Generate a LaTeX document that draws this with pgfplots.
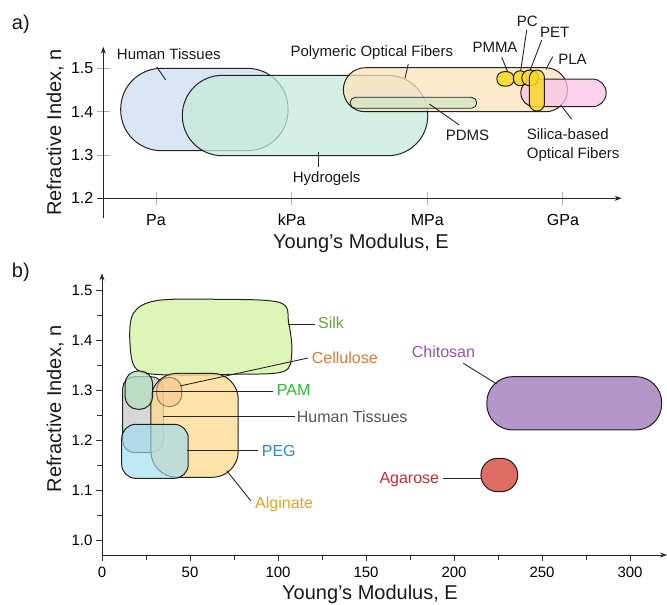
\documentclass[border=0pt]{standalone}
\usepackage{pgfplots}
\pgfplotsset{compat=1.18}
\usepackage{fontspec}
\setmainfont{Liberation Sans}
\usetikzlibrary{arrows.meta}
\definecolor{htA}{HTML}{CFDDF1}
\definecolor{hydA}{HTML}{C5EADB}
\definecolor{polA}{HTML}{FDE3BC}
\definecolor{pdmsA}{HTML}{CFE6C8}
\definecolor{silA}{HTML}{F9C3E6}
\definecolor{yelA}{HTML}{F7DA2B}
\definecolor{silkB}{HTML}{D3F1A0}
\definecolor{celB}{HTML}{F6C58B}
\definecolor{pamB}{HTML}{B5DEC0}
\definecolor{htB}{HTML}{C6C6C6}
\definecolor{algB}{HTML}{FDDB94}
\definecolor{pegB}{HTML}{9CDDF0}
\definecolor{chiB}{HTML}{B596C9}
\definecolor{agaB}{HTML}{DF6B65}
\definecolor{silkT}{HTML}{6AA33A}
\definecolor{celT}{HTML}{E8762B}
\definecolor{pamT}{HTML}{22C32E}
\definecolor{htT}{HTML}{555555}
\definecolor{pegT}{HTML}{2D87D6}
\definecolor{algT}{HTML}{E9A21F}
\definecolor{chiT}{HTML}{9B4FBF}
\definecolor{agaT}{HTML}{D8262A}
\pgfplotsset{
  blob/.style={draw=black, line width=1pt, mark=none, fill opacity=0.75, draw opacity=0.85},
}
\begin{document}
\begin{tikzpicture}
\path[use as bounding box] (0,0) rectangle (667pt,605pt);
% ---------------- panel a ----------------
\begin{axis}[
  at={(103.3pt,406.7pt)}, anchor=south west, scale only axis,
  width=518.4pt, height=151.6pt,
  xmin=-1.166, xmax=10.30, ymin=1.2, ymax=1.55,
  axis lines=left,
  axis line style={line width=0.9pt, black!85, -{Stealth[length=7pt,width=5pt]}},
  xtick={0,3,6,9}, xticklabels={Pa,kPa,MPa,GPa},
  ytick={1.2,1.3,1.4,1.5},
  yticklabel style={/pgf/number format/fixed,/pgf/number format/fixed zerofill,/pgf/number format/precision=1},
  xticklabel style={yshift=-6pt},
  tick align=center, major tick length=13pt,
  tick style={gray!60, line width=0.9pt},
  ticklabel style={font=\fontsize{16}{19}\selectfont},
  /pgf/number format/assume math mode=true,
  clip=false,
]
\addplot[blob, fill=htA, rounded corners=40.5pt] coordinates {(-0.781,1.31) (2.92,1.31) (2.92,1.50) (-0.781,1.50)} -- cycle;
\addplot[blob, fill=hydA, rounded corners=40pt] coordinates {(0.582,1.2983) (6.011,1.2983) (6.011,1.4839) (0.582,1.4839)} -- cycle;
\addplot[blob, fill=polA, rounded corners=21.8pt] coordinates {(4.144,1.3999) (9.100,1.3999) (9.100,1.5014) (4.144,1.5014)} -- cycle;
\addplot[blob, fill=pdmsA, line width=0.8pt, rounded corners=5.4pt] coordinates {(4.292,1.4077) (7.095,1.4077) (7.095,1.4331) (4.292,1.4331)} -- cycle;
\addplot[blob, fill=silA, rounded corners=13.7pt] coordinates {(8.069,1.4114) (9.956,1.4114) (9.956,1.4753) (8.069,1.4753)} -- cycle;
\addplot[blob, fill=yelA, fill opacity=0.9, rounded corners=7pt] coordinates {(7.538,1.4592) (7.920,1.4592) (7.920,1.4922) (7.538,1.4922)} -- cycle;
\addplot[blob, fill=yelA, fill opacity=0.9, rounded corners=6.6pt] coordinates {(7.905,1.4599) (8.201,1.4599) (8.201,1.4945) (7.905,1.4945)} -- cycle;
\addplot[blob, fill=yelA, fill opacity=0.9, rounded corners=7.7pt] coordinates {(8.091,1.4599) (8.458,1.4599) (8.458,1.4961) (8.091,1.4961)} -- cycle;
\addplot[blob, fill=yelA, fill opacity=0.85, rounded corners=7.4pt] coordinates {(8.259,1.4015) (8.591,1.4015) (8.591,1.4961) (8.259,1.4961)} -- cycle;
\end{axis}
% ---------------- panel b ----------------
\begin{axis}[
  at={(102pt,50pt)}, anchor=south west, scale only axis,
  width=565pt, height=281.7pt,
  xmin=0, xmax=321, ymin=0.97, ymax=1.5333,
  axis lines=left,
  axis line style={line width=0.9pt, black!85, -{Stealth[length=7pt,width=5pt]}},
  xtick={0,50,100,150,200,250,300}, minor x tick num=1,
  ytick={1.0,1.1,1.2,1.3,1.4,1.5}, minor y tick num=1,
  yticklabel style={/pgf/number format/fixed,/pgf/number format/fixed zerofill,/pgf/number format/precision=1},
  xticklabel style={yshift=-2pt},
  tick align=outside, major tick length=6pt, minor tick length=5pt,
  tick style={black!80, line width=0.8pt},
  ticklabel style={font=\fontsize{15}{18}\selectfont},
  /pgf/number format/assume math mode=true,
  clip=false,
]
\addplot[blob, fill=silkB, smooth cycle, tension=0.55] coordinates {(15.9,1.3933) (17.8,1.4533) (31.1,1.4787) (65.2,1.4813) (101.1,1.4747) (106.1,1.4333) (107.8,1.3733) (103.0,1.3367) (74.6,1.3313) (36.8,1.3300) (19.7,1.3413)};
\addplot[blob, fill=htB, fill opacity=0.7, rounded corners=12pt] coordinates {(11.74,1.1747) (34.8,1.1747) (34.8,1.3267) (11.74,1.3267)} -- cycle;
\addplot[blob, fill=algB, fill opacity=0.8, rounded corners=26pt] coordinates {(27.8,1.1253) (77.4,1.1253) (77.4,1.3333) (27.8,1.3333)} -- cycle;
\addplot[blob, fill=pamB, fill opacity=0.75, rounded corners=13pt] coordinates {(13.07,1.2613) (28.8,1.2613) (28.8,1.338) (13.07,1.338)} -- cycle;
\addplot[blob, fill=celB, fill opacity=0.6, draw opacity=0.4, rounded corners=12pt] coordinates {(31.1,1.2667) (45.3,1.2667) (45.3,1.3253) (31.1,1.3253)} -- cycle;
\addplot[blob, fill=pegB, fill opacity=0.65, rounded corners=14pt] coordinates {(11.2,1.1233) (49.0,1.1233) (49.0,1.2313) (11.2,1.2313)} -- cycle;
\addplot[blob, fill=chiB, fill opacity=1, rounded corners=26pt] coordinates {(218.6,1.22) (318.0,1.22) (318.0,1.3267) (218.6,1.3267)} -- cycle;
\addplot[blob, fill=agaB, fill opacity=1, rounded corners=16.5pt] coordinates {(215.3,1.0967) (236.2,1.0967) (236.2,1.1633) (215.3,1.1633)} -- cycle;
\end{axis}
% ---------------- annotations (pixel frame) ----------------
\begin{scope}[x=1pt,y=-1pt,yshift=605pt]
\draw[line width=0.9pt, black!85] (103.3,198.3)--(103.3,218.3);
\draw[line width=0.9pt, black!85] (96.7,198.3)--(103.3,198.3);
\tikzset{lead/.style={line width=0.9pt, black!85}}
\begin{scope}[every node/.style={inner sep=0pt, font=\fontsize{15}{18}\selectfont, text=black!90}]
\node[anchor=base] at (168.8,59.9) {Human Tissues};
\draw[lead] (156.7,66.7)--(165.7,80);
\node[anchor=base east] at (453.3,56.2) {Polymeric Optical Fibers};
\draw[lead] (408.3,64)--(405,78.3);
\node[anchor=base west] at (292.7,182.9) {Hydrogels};
\draw[lead] (318.3,151.7)--(318.3,166.7);
\node[anchor=base] at (467.5,140.4) {PDMS};
\draw[lead] (429.3,104)--(459.3,125);
\node[anchor=base west] at (526.7,139.4) {Silica-based};
\node[anchor=base west] at (526.7,158.7) {Optical Fibers};
\draw[lead] (560.7,105)--(571.7,119.3);
\node[anchor=base] at (495,52.9) {PMMA};
\draw[lead] (501.7,57.3)--(507.7,71.7);
\node[anchor=base] at (527.2,26.2) {PC};
\draw[lead] (526.7,30)--(520.7,70.7);
\node[anchor=base] at (554.7,37.9) {PET};
\draw[lead] (541.7,40)--(530,70.7);
\node[anchor=base] at (572.5,64.6) {PLA};
\draw[lead] (552.7,56.7)--(546,69.3);
\end{scope}
\begin{scope}[every node/.style={inner sep=0pt, font=\fontsize{16}{19}\selectfont}]
\node[anchor=base west, text=silkT] at (318,328.7) {Silk};
\draw[lead] (288.3,324)--(315,324);
\node[anchor=base west, text=celT] at (311.7,363.7) {Cellulose};
\draw[lead] (180,386)--(308,358);
\node[anchor=base west, text=pamT] at (276.7,395.7) {PAM};
\draw[lead] (153,391)--(273,391);
\node[anchor=base west, text=htT] at (296.7,422.4) {Human Tissues};
\draw[lead] (163.3,416.7)--(295,416.7);
\node[anchor=base west, text=pegT] at (261.7,456.4) {PEG};
\draw[lead] (187.3,450.7)--(258.3,450.7);
\node[anchor=base west, text=algT] at (255,509) {Alginate};
\draw[lead] (226.7,470.7)--(250.7,500.7);
\node[anchor=base west, text=chiT] at (411.7,357.4) {Chitosan};
\draw[lead] (463.3,363.3)--(496.7,384);
\node[anchor=base west, text=agaT] at (379.3,484) {Agarose};
\draw[lead] (443.3,478.3)--(481.7,478.3);
\end{scope}
\begin{scope}[every node/.style={inner sep=0pt, font=\fontsize{20}{24}\selectfont, text=black!90}]
\node[anchor=base west] at (11.7,29.5) {a)};
\node[anchor=base west] at (11.7,278) {b)};
\node[anchor=base, rotate=90] at (61,132.5) {Refractive Index, n};
\node[anchor=base, rotate=90] at (61,409) {Refractive Index, n};
\node[anchor=base] at (361,248.6) {Young’s Modulus, E};
\node[anchor=base] at (370,600) {Young's Modulus, E};
\end{scope}
\end{scope}
\end{tikzpicture}
\end{document}
